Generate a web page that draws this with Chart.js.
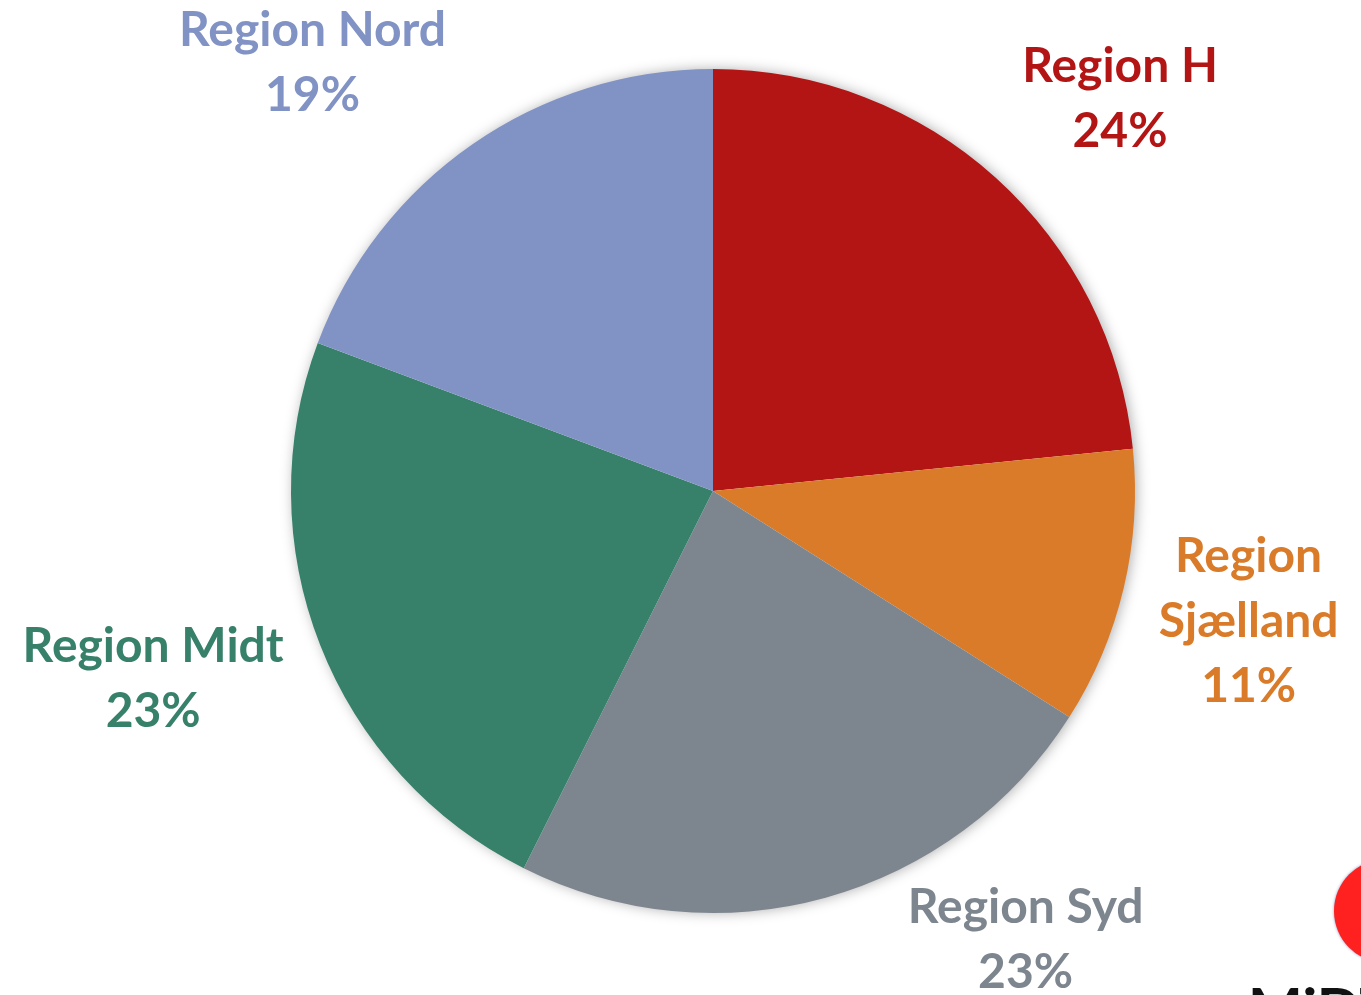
<!DOCTYPE html>
<html>
<head>
<meta charset="utf-8">
<script src="https://cdn.jsdelivr.net/npm/chart.js@4.4.1/dist/chart.umd.min.js"></script>
<style>
  html, body { margin: 0; padding: 0; background: #ffffff; }
  #wrap { width: 1361px; height: 995px; position: relative; overflow: hidden; }
</style>
</head>
<body>
<div id="wrap"><canvas id="c" width="1361" height="995"></canvas></div>
<script>
const categories = ['Region H', 'Region Sjælland', 'Region Syd', 'Region Midt', 'Region Nord'];
const labelLines = [['Region H'], ['Region', 'Sjælland'], ['Region Syd'], ['Region Midt'], ['Region Nord']];
const shares = [23.4, 10.6, 23.4, 23.3, 19.3];
const percentLabels = ['24%', '11%', '23%', '23%', '19%'];
const sliceColors = ['#B31515', '#D97B28', '#7D868F', '#37806A', '#8192C4'];
// label offset (px) from the slice's outer-edge midpoint
const labelOffsetX = [124, 125, 200, -167, -160];
const labelOffsetY = [-79, 33, 42, 34, -81];

const shadowPlugin = {
  id: 'pieShadow',
  beforeDatasetsDraw(chart) {
    const meta = chart.getDatasetMeta(0);
    if (!meta.data.length) return;
    const a = meta.data[0];
    const ctx = chart.ctx;
    ctx.save();
    ctx.shadowColor = 'rgba(0,0,0,0.35)';
    ctx.shadowBlur = 14;
    ctx.shadowOffsetX = 2;
    ctx.shadowOffsetY = 0;
    ctx.fillStyle = '#ffffff';
    ctx.beginPath();
    ctx.arc(a.x, a.y, a.outerRadius - 1, 0, Math.PI * 2);
    ctx.fill();
    ctx.restore();
  }
};

const labelPlugin = {
  id: 'sliceLabels',
  afterDatasetsDraw(chart) {
    const meta = chart.getDatasetMeta(0);
    const ctx = chart.ctx;
    ctx.save();
    ctx.font = 'bold 48px Lato, "Open Sans", sans-serif';
    ctx.textAlign = 'center';
    ctx.textBaseline = 'middle';
    const lineH = 65;
    meta.data.forEach((arc, i) => {
      const mid = (arc.startAngle + arc.endAngle) / 2;
      const ex = arc.x + Math.cos(mid) * arc.outerRadius;
      const ey = arc.y + Math.sin(mid) * arc.outerRadius;
      const cx = ex + labelOffsetX[i];
      const cy = ey + labelOffsetY[i];
      const lines = labelLines[i].concat([percentLabels[i]]);
      const top = cy - (lines.length - 1) * lineH / 2;
      ctx.fillStyle = sliceColors[i];
      lines.forEach((t, k) => ctx.fillText(t, cx, top + k * lineH));
    });
    ctx.restore();
  },
  afterDraw(chart) {
    // partial logo in the lower-right corner
    const ctx = chart.ctx;
    ctx.save();
    ctx.shadowColor = 'rgba(60,90,160,0.6)';
    ctx.shadowBlur = 3;
    ctx.fillStyle = '#FF2020';
    ctx.beginPath();
    ctx.arc(1386, 911, 52, 0, Math.PI * 2);
    ctx.fill();
    ctx.shadowBlur = 0;
    ctx.fillStyle = '#111111';
    ctx.font = 'bold 58px Lato, sans-serif';
    ctx.textAlign = 'left';
    ctx.textBaseline = 'alphabetic';
    ctx.fillText('MiDT', 1248, 1030);
    ctx.restore();
  }
};

new Chart(document.getElementById('c'), {
  type: 'pie',
  data: {
    labels: categories,
    datasets: [{
      data: shares,
      backgroundColor: sliceColors,
      borderWidth: 0
    }]
  },
  options: {
    responsive: false,
    animation: false,
    layout: { padding: { top: 69, bottom: 82, left: 200, right: 135 } },
    plugins: {
      legend: { display: false },
      tooltip: { enabled: false },
      title: { display: false }
    }
  },
  plugins: [shadowPlugin, labelPlugin]
});
</script>
</body>
</html>
